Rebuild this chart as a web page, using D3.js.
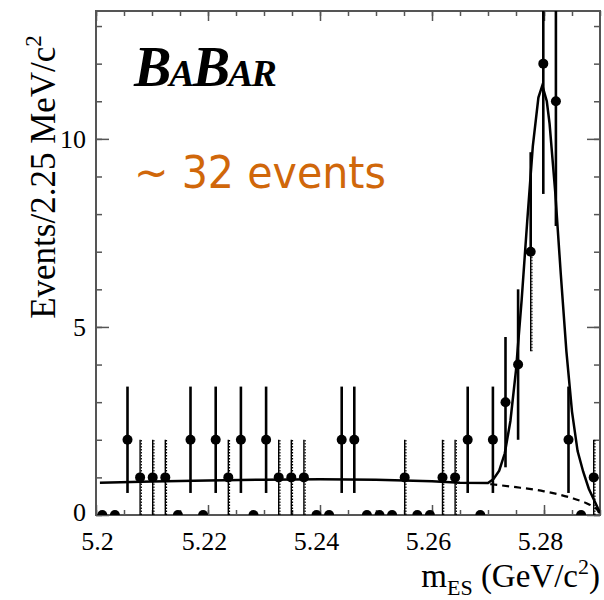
<!DOCTYPE html>
<html>
<head>
<meta charset="utf-8">
<script src="https://cdn.jsdelivr.net/npm/d3@7"></script>
<style>
  body { margin: 0; background: #fff; }
  svg { display: block; }
</style>
</head>
<body>
<div id="chart"></div>
<script>
// m_ES distribution, 40 bins of 2.25 MeV between 5.20 and 5.29 GeV
var binLo = 5.2, binW = 0.00225;
var counts = [0, 0, 2, 1, 1, 1, 0, 2, 0, 2,
              1, 2, 0, 2, 1, 1, 1, 0, 0, 2,
              2, 0, 0, 0, 1, 0, 0, 1, 1, 2,
              0, 2, 3, 4, 7, 12, 11, 2, 0, 1];

// background (ARGUS) curve
var bkgMass = [5.2007, 5.21, 5.22, 5.23, 5.24, 5.25, 5.26, 5.265, 5.27, 5.275, 5.28, 5.2852, 5.2875, 5.2888, 5.2895, 5.29];
var bkgVal  = [0.86, 0.89, 0.92, 0.94, 0.95, 0.94, 0.90, 0.86, 0.82, 0.74, 0.63, 0.44, 0.32, 0.22, 0.14, 0.0];

// total fit (background + signal peak)
var fitMass = [5.2007, 5.21, 5.22, 5.23, 5.24, 5.25, 5.26, 5.265, 5.27, 5.271, 5.272, 5.273, 5.274, 5.275,
               5.276, 5.277, 5.278, 5.279, 5.2797, 5.2805, 5.281, 5.282, 5.283, 5.284, 5.285, 5.286,
               5.287, 5.288, 5.289, 5.2895, 5.29];
var fitVal  = [0.86, 0.89, 0.92, 0.94, 0.95, 0.94, 0.90, 0.86, 0.85, 0.96, 1.18, 1.64, 2.5, 3.85,
               5.7, 7.8, 9.8, 11.1, 11.42, 11.0, 10.4, 8.6, 6.4, 4.35, 2.75, 1.7,
               1.15, 0.7, 0.38, 0.22, 0.05];

var xTicks = [5.2, 5.22, 5.24, 5.26, 5.28];
var yTicks = [0, 5, 10];

var W = 604, H = 600;
var margin = {top: 11, right: 4, bottom: 85, left: 96},
    width = W - margin.left - margin.right,
    height = H - margin.top - margin.bottom;

var svg = d3.select("#chart").append("svg")
    .attr("width", W)
    .attr("height", H);

var g = svg.append("g")
    .attr("transform", "translate(" + margin.left + "," + margin.top + ")");

var x = d3.scaleLinear().domain([5.2, 5.29]).range([0, width]);
var y = d3.scaleLinear().domain([0, 13.4]).range([height, 0]);

g.append("clipPath").attr("id", "clip")
  .append("rect").attr("width", width).attr("height", height);

var frameColor = "#555";
var serif = "'Liberation Serif', 'Times New Roman', serif";

// ticks on all four sides, pointing inwards
var xMinor = d3.range(0, 19).map(function(k) { return 5.2 + k * 0.005; });
var yMinor = d3.range(0, 14);

function tickAxis(axis, transform) {
  var a = g.append("g").attr("transform", transform || null).call(axis);
  a.select(".domain").remove();
  a.selectAll("line").attr("stroke", frameColor).attr("stroke-width", 1.5);
  return a;
}
tickAxis(d3.axisBottom(x).tickValues(xMinor).tickSize(-5).tickFormat(""), "translate(0," + height + ")");
tickAxis(d3.axisTop(x).tickValues(xMinor).tickSize(-5).tickFormat(""));
tickAxis(d3.axisLeft(y).tickValues(yMinor).tickSize(-6).tickFormat(""));
tickAxis(d3.axisRight(y).tickValues(yMinor).tickSize(-6).tickFormat(""), "translate(" + width + ",0)");
tickAxis(d3.axisTop(x).tickValues(xTicks).tickSize(-10).tickFormat(""));
tickAxis(d3.axisRight(y).tickValues(yTicks).tickSize(-13).tickFormat(""), "translate(" + width + ",0)");

var xAxis = tickAxis(d3.axisBottom(x).tickValues(xTicks).tickSize(-10).tickPadding(17)
    .tickFormat(function(d) { return d3.format("")(+d.toFixed(2)); }), "translate(0," + height + ")");
xAxis.selectAll("text")
    .attr("dx", function(d, i) { return i === 0 ? 1 : -4; })
    .style("font-family", serif)
    .style("font-size", "26px")
    .attr("fill", "#000");

var yAxis = tickAxis(d3.axisLeft(y).tickValues(yTicks).tickSize(-13).tickPadding(10));
yAxis.selectAll("text")
    .attr("dy", function(d) { return d === 0 ? "0.2em" : "0.32em"; })
    .style("font-family", serif)
    .style("font-size", "26px")
    .attr("fill", "#000");

// frame
g.append("rect")
    .attr("width", width).attr("height", height)
    .attr("fill", "none")
    .attr("stroke", frameColor)
    .attr("stroke-width", 2);

var plot = g.append("g").attr("clip-path", "url(#clip)");

// fit curves
var bkgPts = bkgMass.map(function(m, i) { return [m, bkgVal[i]]; }).filter(function(p) { return p[0] >= 5.2704; });
bkgPts.unshift([5.2704, 0.82]);
var fitPts = fitMass.map(function(m, i) { return [m, fitVal[i]]; });

var line = d3.line()
    .x(function(d) { return x(d[0]); })
    .y(function(d) { return y(d[1]); });

plot.append("path")
    .datum(bkgPts)
    .attr("d", line.curve(d3.curveMonotoneX))
    .attr("fill", "none")
    .attr("stroke", "#000")
    .attr("stroke-width", 2.2)
    .attr("stroke-dasharray", "7,5");

plot.append("path")
    .datum(fitPts)
    .attr("d", line.curve(d3.curveLinear))
    .attr("fill", "none")
    .attr("stroke", "#000")
    .attr("stroke-width", 2.5);

// data points with sqrt(N) error bars
var bins = counts.map(function(n, i) {
  return {m: binLo + (i + 0.5) * binW, n: n, e: Math.sqrt(n)};
});

var bars = plot.append("g");
bins.filter(function(d) { return d.n > 0; }).forEach(function(d) {
  var dottedLow = d.n === 1 || d.n === 7;
  var dottedHigh = d.n === 1;
  var segs = [[d.n, d.n + d.e, dottedHigh], [d.n - d.e, d.n, dottedLow]];
  segs.forEach(function(s) {
    bars.append("line")
      .attr("x1", x(d.m)).attr("x2", x(d.m))
      .attr("y1", y(s[0])).attr("y2", y(s[1]))
      .attr("stroke", "#000")
      .attr("stroke-width", s[2] ? 1.4 : 2.6);
    if (s[2]) {
      bars.append("line")
        .attr("x1", x(d.m) + 1.2).attr("x2", x(d.m) + 1.2)
        .attr("y1", y(s[0])).attr("y2", y(s[1]))
        .attr("stroke", "#000")
        .attr("stroke-width", 1.2)
        .attr("stroke-dasharray", "1.5,1.5");
    }
  });
});

plot.append("g").selectAll("circle")
    .data(bins)
    .enter().append("circle")
    .attr("cx", function(d) { return x(d.m); })
    .attr("cy", function(d) { return y(d.n); })
    .attr("r", 5)
    .attr("fill", "#000");

// axis titles
svg.append("text")
    .attr("transform", "translate(55,177) rotate(-90)")
    .attr("text-anchor", "middle")
    .style("font-family", serif)
    .style("font-size", "35px")
    .html("Events/2.25 MeV/c<tspan dy='-14' font-size='23px'>2</tspan>");

svg.append("text")
    .attr("x", 600)
    .attr("y", 587)
    .attr("text-anchor", "end")
    .style("font-family", serif)
    .style("font-size", "33px")
    .html("m<tspan dy='8' font-size='22px'>ES</tspan><tspan dy='-8'> (GeV/c</tspan><tspan dy='-13' font-size='22px'>2</tspan><tspan dy='13'>)</tspan>");

// BaBar logo
svg.append("text")
    .attr("x", 134)
    .attr("y", 86)
    .style("font-family", serif)
    .style("font-weight", "bold")
    .style("font-style", "italic")
    .style("letter-spacing", "-2px")
    .html("<tspan font-size='56px'>B</tspan><tspan font-size='38px'>A</tspan><tspan font-size='56px'>B</tspan><tspan font-size='38px'>AR</tspan>");

svg.append("text")
    .attr("x", 134)
    .attr("y", 188)
    .attr("textLength", 252)
    .attr("lengthAdjust", "spacingAndGlyphs")
    .style("font-family", "'DejaVu Sans', Verdana, sans-serif")
    .style("font-size", "44px")
    .attr("fill", "#d0670a")
    .text("~ 32 events");
</script>
</body>
</html>
